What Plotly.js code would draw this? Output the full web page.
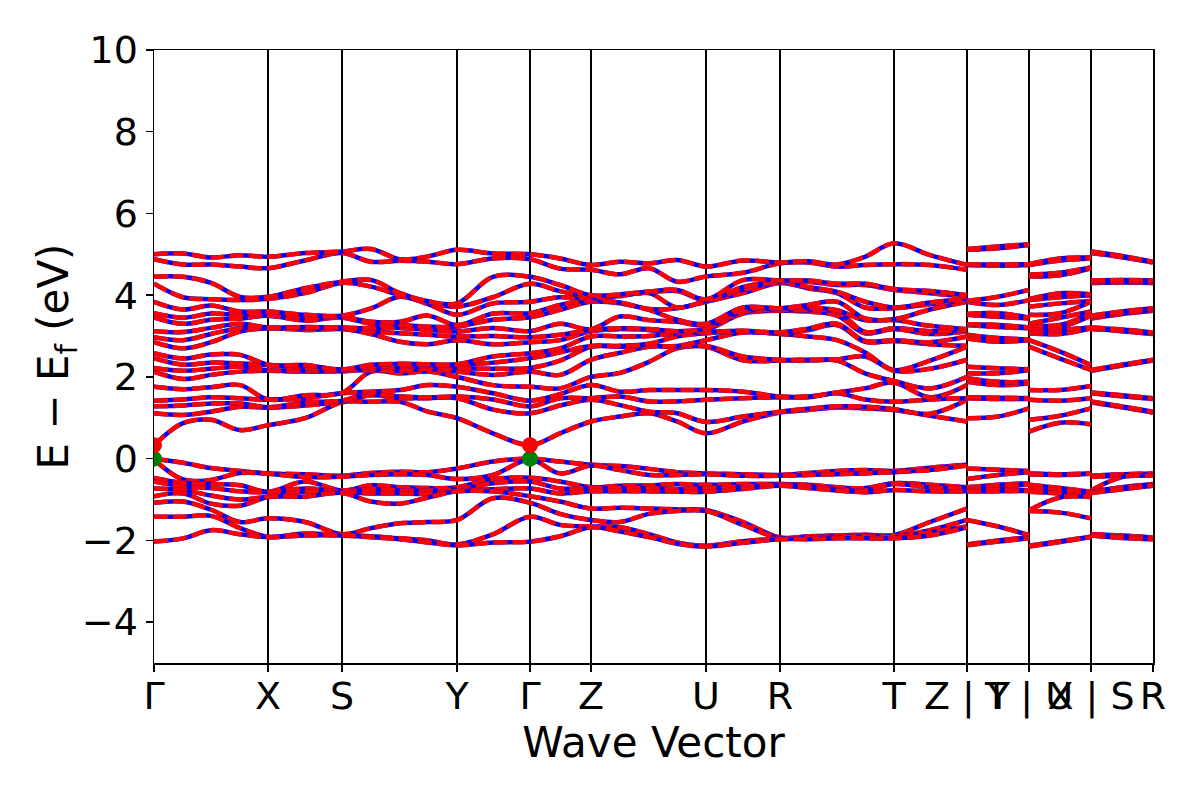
<!DOCTYPE html>
<html>
<head>
<meta charset="utf-8">
<script src="https://cdn.plot.ly/plotly-3.0.1.min.js"></script>
<style>html,body{margin:0;padding:0;background:#fff;}#plot{width:1200px;height:800px;}</style>
</head>
<body>
<div id="plot"></div>
<script>
// High-symmetry points (k-distance) and labels
const tickPos = [0, 1.14, 1.88, 3.03, 3.76, 4.37, 5.52, 6.26, 7.40, 8.13, 8.75, 9.37, 9.99];
const tickLabels = ["Γ", "X", "S", "Y", "Γ", "Z", "U", "R", "T", "Z | Y", "T | U", "X | S", "R"];

// Main path Γ-X-S-Y-Γ-Z-U-R-T-Z : k positions
const kMain = [0, 0.29, 0.57, 0.86, 1.14, 1.51, 1.88, 2.17, 2.46, 2.74, 3.03, 3.39, 3.76, 4.06, 4.37,
  4.66, 4.95, 5.23, 5.52, 5.89, 6.26, 6.54, 6.83, 7.11, 7.40, 7.76, 8.13];
const kYT = [8.13, 8.44, 8.75];
const kUX = [8.75, 9.06, 9.37];
const kSR = [9.37, 9.68, 9.99];

// Conduction bands (eV), one column per k-point, sorted
const condMain = [
  [0.33, 1.11, 1.28, 1.42, 1.76, 2.13, 2.22, 2.46, 2.58, 2.85, 2.97, 3.12, 3.46, 3.56, 3.84, 4.28, 4.45, 4.88, 5.00],
  [0.87, 1.07, 1.30, 1.45, 1.70, 1.95, 2.15, 2.30, 2.45, 2.70, 2.90, 3.10, 3.30, 3.45, 3.65, 3.95, 4.45, 4.75, 5.02],
  [0.95, 1.15, 1.35, 1.50, 1.75, 2.05, 2.20, 2.35, 2.55, 2.85, 3.05, 3.20, 3.40, 3.55, 3.75, 3.90, 4.30, 4.75, 4.92],
  [0.70, 1.27, 1.35, 1.48, 1.80, 2.13, 2.25, 2.33, 2.54, 3.11, 3.19, 3.30, 3.43, 3.52, 3.60, 3.88, 3.96, 4.70, 4.98],
  [0.82, 1.25, 1.26, 1.44, 1.45, 2.15, 2.16, 2.29, 2.30, 3.19, 3.20, 3.21, 3.50, 3.55, 3.60, 3.91, 3.96, 4.66, 4.94],
  [0.99, 1.30, 1.38, 1.48, 1.55, 2.13, 2.16, 2.22, 2.29, 3.15, 3.20, 3.22, 3.38, 3.45, 3.52, 4.05, 4.17, 4.85, 5.03],
  [1.38, 1.40, 1.42, 1.60, 1.61, 2.14, 2.16, 2.17, 2.18, 3.17, 3.19, 3.21, 3.45, 3.47, 3.50, 4.30, 4.33, 5.03, 5.07],
  [1.39, 1.55, 1.60, 1.64, 2.13, 2.17, 2.21, 2.25, 2.30, 3.05, 3.11, 3.19, 3.30, 3.35, 3.68, 4.21, 4.37, 4.82, 5.13],
  [1.39, 1.48, 1.52, 1.68, 2.09, 2.15, 2.25, 2.28, 2.32, 2.86, 3.07, 3.20, 3.27, 3.35, 3.96, 4.00, 4.05, 4.84, 4.88],
  [1.15, 1.48, 1.50, 1.80, 2.13, 2.20, 2.25, 2.28, 2.31, 2.80, 3.03, 3.15, 3.23, 3.50, 3.78, 3.82, 3.85, 4.82, 4.95],
  [0.99, 1.48, 1.52, 1.76, 2.00, 2.13, 2.21, 2.29, 2.31, 2.90, 2.99, 3.11, 3.23, 3.27, 3.52, 3.72, 3.80, 4.76, 5.11],
  [0.62, 1.20, 1.45, 1.60, 1.80, 2.05, 2.20, 2.35, 2.50, 2.80, 3.00, 3.20, 3.40, 3.55, 3.80, 3.95, 4.45, 4.90, 5.02],
  [0.33, 1.11, 1.28, 1.42, 1.76, 2.13, 2.22, 2.46, 2.58, 2.85, 2.97, 3.12, 3.46, 3.56, 3.84, 4.28, 4.45, 4.88, 5.00],
  [0.62, 1.30, 1.48, 1.58, 1.72, 2.05, 2.40, 2.60, 2.70, 2.90, 3.03, 3.30, 3.64, 3.76, 3.95, 4.10, 4.25, 4.65, 4.90],
  [0.91, 1.44, 1.48, 1.80, 2.00, 2.42, 2.74, 2.76, 2.99, 3.12, 3.15, 3.17, 3.84, 3.88, 3.92, 3.96, 4.00, 4.62, 4.74],
  [1.03, 1.31, 1.52, 1.64, 2.10, 2.59, 2.74, 2.76, 2.99, 3.17, 3.19, 3.48, 3.80, 3.82, 3.98, 4.00, 4.02, 4.51, 4.82],
  [1.11, 1.15, 1.40, 1.68, 2.37, 2.74, 2.76, 2.81, 3.00, 3.15, 3.17, 3.39, 3.64, 3.66, 4.05, 4.07, 4.09, 4.66, 4.78],
  [0.91, 1.11, 1.40, 1.68, 2.70, 2.74, 2.76, 2.99, 3.07, 3.09, 3.12, 3.35, 3.40, 3.68, 3.70, 4.10, 4.13, 4.33, 4.86],
  [0.62, 0.90, 1.44, 1.68, 2.74, 2.76, 2.90, 3.07, 3.10, 3.15, 3.19, 3.27, 3.30, 3.84, 3.86, 3.88, 3.90, 4.46, 4.70],
  [0.91, 1.03, 1.48, 1.64, 2.41, 2.50, 3.09, 3.11, 3.13, 3.55, 3.60, 3.65, 3.70, 4.05, 4.13, 4.20, 4.37, 4.55, 4.85],
  [1.13, 1.15, 1.50, 1.52, 2.40, 2.42, 3.05, 3.07, 3.09, 3.62, 3.64, 3.66, 3.68, 4.30, 4.32, 4.34, 4.36, 4.78, 4.80],
  [1.19, 1.22, 1.50, 1.52, 2.40, 2.42, 2.99, 3.15, 3.18, 3.60, 3.63, 3.70, 3.76, 4.17, 4.20, 4.33, 4.36, 4.80, 4.83],
  [1.25, 1.28, 1.60, 1.62, 2.40, 2.43, 2.90, 3.27, 3.30, 3.50, 3.60, 3.63, 3.84, 4.05, 4.08, 4.25, 4.28, 4.70, 4.75],
  [1.23, 1.27, 1.45, 1.72, 2.09, 2.50, 2.60, 2.86, 2.88, 3.07, 3.10, 3.39, 3.43, 3.70, 3.84, 4.25, 4.28, 4.74, 4.94],
  [1.19, 1.21, 1.39, 1.86, 1.90, 2.15, 2.17, 2.88, 2.90, 3.17, 3.19, 3.39, 3.41, 3.68, 3.70, 4.13, 4.15, 4.76, 5.27],
  [1.05, 1.10, 1.45, 1.50, 1.72, 2.20, 2.40, 2.80, 2.85, 3.05, 3.12, 3.25, 3.65, 3.78, 3.82, 4.05, 4.10, 4.74, 4.98],
  [0.91, 1.44, 1.48, 1.80, 2.00, 2.42, 2.74, 2.76, 2.99, 3.12, 3.15, 3.17, 3.84, 3.88, 3.92, 3.96, 4.00, 4.62, 4.74]
];
const condYT = [
  [0.99, 1.48, 1.50, 1.88, 1.97, 2.09, 2.25, 2.94, 3.03, 3.27, 3.29, 3.52, 3.54, 3.84, 3.86, 4.74, 4.76, 5.11, 5.13],
  [1.03, 1.46, 1.49, 1.80, 1.88, 2.09, 2.21, 2.86, 2.95, 3.22, 3.27, 3.47, 3.56, 3.76, 3.96, 4.72, 4.75, 5.15, 5.19],
  [1.23, 1.46, 1.48, 1.84, 1.88, 2.17, 2.19, 2.90, 2.92, 3.19, 3.21, 3.43, 3.45, 3.88, 4.13, 4.74, 4.76, 5.23, 5.25]
];
const condUX = [
  [0.66, 0.95, 1.44, 1.68, 2.74, 2.90, 3.07, 3.10, 3.19, 3.27, 3.30, 3.52, 3.72, 3.88, 3.90, 4.46, 4.50, 4.74, 4.76],
  [0.88, 1.05, 1.42, 1.68, 2.45, 2.62, 3.05, 3.15, 3.22, 3.27, 3.45, 3.56, 3.80, 3.95, 4.05, 4.49, 4.55, 4.85, 4.90],
  [0.84, 1.23, 1.48, 1.78, 2.17, 2.29, 3.19, 3.21, 3.50, 3.56, 3.60, 3.84, 3.86, 4.00, 4.02, 4.66, 4.68, 4.90, 4.92]
];
const condSR = [
  [1.38, 1.40, 1.60, 1.62, 2.15, 2.17, 3.17, 3.19, 3.21, 3.43, 3.45, 3.47, 3.50, 4.30, 4.32, 4.34, 4.36, 5.03, 5.07],
  [1.26, 1.28, 1.53, 1.55, 2.28, 2.30, 3.12, 3.14, 3.16, 3.54, 3.56, 3.58, 3.60, 4.31, 4.33, 4.35, 4.37, 4.93, 4.96],
  [1.13, 1.15, 1.46, 1.48, 2.40, 2.42, 3.05, 3.07, 3.09, 3.62, 3.64, 3.66, 3.68, 4.30, 4.32, 4.34, 4.36, 4.80, 4.82]
];

// Valence bands (eV), one column per k-point, sorted
const valMain = [
  [0.00, -0.02, -0.47, -0.56, -0.73, -0.92, -1.08, -1.42, -2.03],
  [-0.10, -0.51, -0.59, -0.68, -0.77, -0.85, -1.05, -1.42, -1.95],
  [-0.23, -0.52, -0.62, -0.72, -0.90, -1.10, -1.25, -1.40, -1.75],
  [-0.30, -0.35, -0.65, -0.80, -1.00, -1.15, -1.55, -1.70, -1.85],
  [-0.36, -0.37, -0.81, -0.82, -0.93, -0.94, -1.46, -1.91, -1.92],
  [-0.38, -0.45, -0.56, -0.73, -0.81, -0.93, -1.55, -1.83, -1.88],
  [-0.42, -0.44, -0.78, -0.80, -0.82, -0.84, -1.85, -1.87, -1.88],
  [-0.35, -0.40, -0.65, -0.75, -0.85, -1.05, -1.70, -1.90, -1.92],
  [-0.32, -0.38, -0.70, -0.78, -0.85, -1.10, -1.58, -1.95, -1.97],
  [-0.33, -0.40, -0.72, -0.78, -0.86, -0.95, -1.55, -2.00, -2.05],
  [-0.24, -0.50, -0.70, -0.75, -0.78, -0.80, -1.50, -2.10, -2.12],
  [-0.07, -0.40, -0.50, -0.60, -0.75, -0.80, -0.97, -1.85, -2.05],
  [0.00, -0.02, -0.47, -0.56, -0.73, -0.92, -1.08, -1.42, -2.03],
  [-0.07, -0.36, -0.56, -0.73, -0.85, -1.05, -1.35, -1.62, -1.90],
  [-0.15, -0.17, -0.70, -0.72, -0.80, -1.22, -1.50, -1.66, -1.68],
  [-0.18, -0.28, -0.66, -0.72, -0.80, -1.20, -1.55, -1.68, -1.78],
  [-0.25, -0.40, -0.65, -0.72, -0.80, -1.22, -1.35, -1.85, -1.92],
  [-0.33, -0.40, -0.62, -0.74, -0.81, -1.24, -1.28, -2.05, -2.08],
  [-0.36, -0.38, -0.64, -0.72, -0.81, -1.26, -1.28, -2.13, -2.15],
  [-0.38, -0.42, -0.62, -0.68, -0.74, -1.55, -1.62, -2.02, -2.06],
  [-0.40, -0.42, -0.62, -0.64, -0.66, -1.93, -1.95, -1.96, -1.97],
  [-0.35, -0.40, -0.64, -0.66, -0.72, -1.90, -1.93, -1.95, -1.97],
  [-0.30, -0.38, -0.70, -0.75, -0.78, -1.88, -1.90, -1.93, -1.95],
  [-0.28, -0.36, -0.72, -0.78, -0.82, -1.86, -1.88, -1.90, -1.95],
  [-0.30, -0.33, -0.60, -0.62, -0.77, -1.87, -1.90, -1.92, -1.95],
  [-0.22, -0.28, -0.64, -0.70, -0.80, -1.55, -1.75, -1.80, -1.88],
  [-0.15, -0.17, -0.70, -0.72, -0.80, -1.22, -1.50, -1.66, -1.68]
];
const valYT = [
  [-0.24, -0.50, -0.70, -0.75, -0.78, -0.80, -1.50, -2.10, -2.12],
  [-0.27, -0.40, -0.64, -0.70, -0.76, -0.80, -1.66, -2.00, -2.03],
  [-0.30, -0.33, -0.60, -0.62, -0.77, -0.79, -1.87, -1.92, -1.95]
];
const valUX = [
  [-0.36, -0.38, -0.64, -0.72, -0.81, -1.26, -1.28, -2.13, -2.15],
  [-0.38, -0.40, -0.72, -0.77, -0.85, -0.95, -1.32, -2.02, -2.04],
  [-0.36, -0.37, -0.81, -0.82, -0.93, -0.94, -1.46, -1.91, -1.92]
];
const valSR = [
  [-0.42, -0.44, -0.78, -0.80, -0.82, -0.84, -1.85, -1.87, -1.88],
  [-0.38, -0.42, -0.45, -0.70, -0.72, -0.75, -1.88, -1.92, -1.94],
  [-0.36, -0.40, -0.42, -0.62, -0.64, -0.66, -1.93, -1.95, -1.97]
];

// Band extrema markers (VBM green, CBM red) at Γ
const vbmK = [0, 3.76], vbmE = [0.0, 0.0];
const cbmK = [0, 3.76], cbmE = [0.33, 0.33];

// ---- build traces ----
const traces = [];
function addBands(groups, nb) {
  for (let b = 0; b < nb; b++) {
    let xs = [], ys = [];
    groups.forEach((g, gi) => {
      if (gi > 0) { xs.push(null); ys.push(null); }
      g.k.forEach((kv, i) => { xs.push(kv); ys.push(g.cols[i][b]); });
    });
    traces.push({x: xs, y: ys, type: 'scatter', mode: 'lines', hoverinfo: 'skip',
      line: {color: 'blue', width: 4.5, shape: 'spline', smoothing: 1.0}, connectgaps: false, showlegend: false});
    traces.push({x: xs, y: ys, type: 'scatter', mode: 'lines', hoverinfo: 'skip',
      line: {color: 'red', width: 4.5, dash: '14px,5px', shape: 'spline', smoothing: 1.0}, connectgaps: false, showlegend: false});
  }
}
addBands([{k: kMain, cols: valMain}, {k: kYT, cols: valYT}, {k: kUX, cols: valUX}, {k: kSR, cols: valSR}], valMain[0].length);
addBands([{k: kMain, cols: condMain}, {k: kYT, cols: condYT}, {k: kUX, cols: condUX}, {k: kSR, cols: condSR}], condMain[0].length);

traces.push({x: vbmK, y: vbmE, type: 'scatter', mode: 'markers', showlegend: false,
  marker: {color: 'green', size: 16}});
traces.push({x: cbmK, y: cbmE, type: 'scatter', mode: 'markers', showlegend: false,
  marker: {color: 'red', size: 16}});

const font = 'DejaVu Sans, sans-serif';
const layout = {
  width: 1200, height: 800,
  margin: {l: 154, r: 47, t: 50, b: 137},
  paper_bgcolor: 'white', plot_bgcolor: 'white',
  font: {family: font, color: 'black', size: 38},
  xaxis: {
    range: [0, 9.99], tickmode: 'array', tickvals: tickPos, ticktext: tickLabels, tickangle: 0,
    showgrid: true, gridcolor: 'black', gridwidth: 2.2,
    zeroline: false, showline: true, mirror: true, linecolor: 'black', linewidth: 1.5,
    ticks: 'outside', ticklen: 7, tickwidth: 1.5, tickcolor: 'black', ticklabelstandoff: -8,
    tickfont: {size: 38, family: font},
    title: {text: 'Wave Vector', font: {size: 42, family: font}, standoff: 4}
  },
  yaxis: {
    range: [-5, 10], tickmode: 'array', tickvals: [-4, -2, 0, 2, 4, 6, 8, 10],
    showgrid: false, zeroline: false, showline: true, mirror: true, linecolor: 'black', linewidth: 1.5,
    ticks: 'outside', ticklen: 7, tickwidth: 1.5, tickcolor: 'black',
    tickfont: {size: 38, family: font},
    title: {text: 'E \u2212 E<sub>f</sub> (eV)', font: {size: 42, family: font}, standoff: 0}
  }
};
Plotly.newPlot('plot', traces, layout, {displayModeBar: false, staticPlot: true});
</script>
</body>
</html>
